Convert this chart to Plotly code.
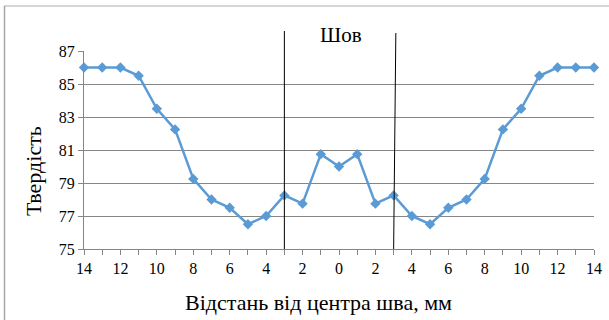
import plotly.graph_objects as go

distances = [14, 13, 12, 11, 10, 9, 8, 7, 6, 5, 4, 3, 2, 1, 0,
             1, 2, 3, 4, 5, 6, 7, 8, 9, 10, 11, 12, 13, 14]
hardness = [86, 86, 86, 85.5, 83.5, 82.25, 79.25, 78, 77.5, 76.5, 77, 78.25, 77.75, 80.75, 80,
            80.75, 77.75, 78.25, 77, 76.5, 77.5, 78, 79.25, 82.25, 83.5, 85.5, 86, 86, 86]
y_ticks = [75, 77, 79, 81, 83, 85, 87]
seam_label = "Шов"
x_title = "Відстань від центра шва, мм"
y_title = "Твердість"
seam_edges = [11, 17]  # category positions (distance 3 mm each side)

W, H = 609, 320
L, R, T, B = 84, 15, 51, 71
pw, ph = W - L - R, H - T - B
bottom = H - B


def px(xp):
    return (xp - L) / pw


def py(yp):
    return (bottom - yp) / ph


idx = list(range(len(distances)))
ticktext = [str(d) if i % 2 == 0 else "" for i, d in enumerate(distances)]

FONT = "Liberation Serif, Times New Roman, serif"

fig = go.Figure()
fig.add_trace(go.Scatter(
    x=idx, y=hardness, mode="lines+markers",
    line=dict(color="#5B9BD5", width=2.5),
    marker=dict(symbol="diamond", size=8, color="#5B9BD5"),
    showlegend=False, cliponaxis=False, hoverinfo="skip",
))

shapes = [
    dict(type="line", xref="x", yref="paper",
         x0=seam_edges[0], x1=seam_edges[0], y0=0, y1=py(31),
         line=dict(color="black", width=1)),
    dict(type="line", xref="x", yref="paper",
         x0=seam_edges[1], x1=seam_edges[1] + 0.12, y0=0, y1=py(33),
         line=dict(color="black", width=1)),
    dict(type="line", xref="paper", yref="paper",
         x0=px(4), x1=px(W + 5), y0=py(6), y1=py(6),
         line=dict(color="#C8C8C8", width=1.5)),
    dict(type="line", xref="paper", yref="paper",
         x0=px(4.5), x1=px(4.5), y0=py(6), y1=py(H + 5),
         line=dict(color="#A6A6A6", width=1.5)),
]

annotations = [
    dict(text=seam_label, xref="paper", yref="paper",
         x=px(341), y=py(35), showarrow=False,
         font=dict(family=FONT, size=21, color="black"),
         xanchor="center", yanchor="middle"),
    dict(text=x_title, xref="paper", yref="paper",
         x=px(318), y=py(302), showarrow=False,
         font=dict(family=FONT, size=22, color="black"),
         xanchor="center", yanchor="middle"),
    dict(text=y_title, xref="paper", yref="paper",
         x=px(33), y=py(171), showarrow=False, textangle=-90,
         font=dict(family=FONT, size=22, color="black"),
         xanchor="center", yanchor="middle"),
]

fig.update_layout(
    width=W, height=H,
    margin=dict(l=L, r=R, t=T, b=B, autoexpand=False),
    paper_bgcolor="white", plot_bgcolor="white",
    font=dict(family=FONT, color="black"),
    shapes=shapes,
    annotations=annotations,
    hovermode=False,
    xaxis=dict(
        range=[0, len(distances) - 1], automargin=False,
        tickmode="array", tickvals=idx, ticktext=ticktext,
        ticks="outside", ticklen=5, tickcolor="#868686", tickwidth=1,
        showline=True, linecolor="#868686", linewidth=1,
        showgrid=False, zeroline=False,
        tickfont=dict(family=FONT, size=16, color="black"),
    ),
    yaxis=dict(
        range=[75, 87], automargin=False,
        tickmode="array", tickvals=y_ticks, ticktext=[str(v) for v in y_ticks],
        ticks="outside", ticklen=5, tickcolor="#868686",
        showline=True, linecolor="#868686", linewidth=1,
        showgrid=True, gridcolor="#868686", gridwidth=1,
        zeroline=False,
        tickfont=dict(family=FONT, size=16, color="black"),
    ),
)

fig.write_html("out.html",
               config={"displayModeBar": False, "staticPlot": True},
               post_script="document.body.style.margin='0';document.body.style.overflow='hidden';")
